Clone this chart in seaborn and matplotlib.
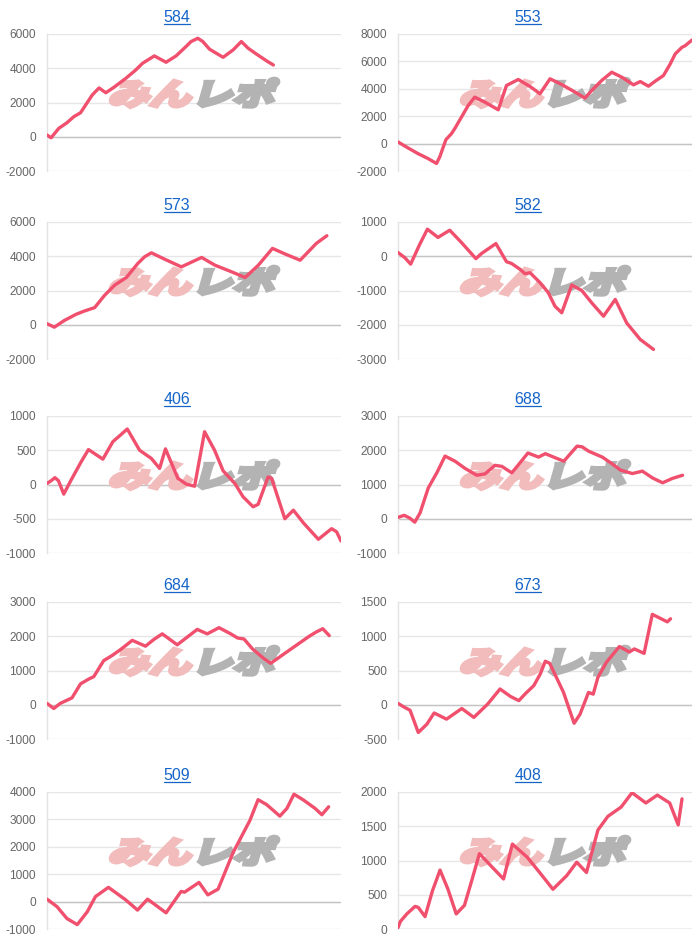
import matplotlib.pyplot as plt
import seaborn as sns
import numpy as np
import pandas as pd
from matplotlib.textpath import TextPath
from matplotlib.patches import PathPatch
from matplotlib.font_manager import FontProperties
from matplotlib.transforms import Affine2D
from matplotlib.lines import Line2D

# machine numbers, reading order (left->right, top->bottom)
titles = ["584", "553", "573", "582", "406", "688", "684", "673", "509", "408"]

# x = progress through the day (% of axis width), y = medal difference
x_584 = [0, 1.4, 4.0, 6.8, 9.1, 11.4, 15.4, 17.7, 20.0, 22.8, 26.8, 30.2, 32.5, 36.5,
         40.5, 43.9, 47.3, 49.0, 51.3, 53.0, 55.3, 59.9, 63.3, 66.1, 68.4, 71.3, 74.7, 77.0]
y_584 = [100, -60, 490, 820, 1170, 1400, 2440, 2850, 2570, 2890, 3410, 3900, 4290, 4720,
         4350, 4720, 5270, 5560, 5750, 5560, 5110, 4640, 5070, 5560, 5170, 4820, 4430, 4190]

x_553 = [0, 3.4, 6.8, 10.2, 13.1, 14.2, 16.3, 18.2, 19.3, 21.6, 23.9, 26.1, 29.5, 34.1,
         36.9, 40.9, 44.9, 48.3, 51.7, 55.7, 60.2, 63.6, 65.9, 69.3, 72.7, 76.1, 80.1,
         82.4, 85.2, 87.5, 90.3, 92.6, 94.3, 96.6, 97.7, 100]
y_553 = [120, -315, -730, -1090, -1450, -970, 290, 730, 1090, 1940, 2790, 3390, 3030, 2470,
         4240, 4680, 4170, 3640, 4730, 4310, 3760, 3320, 3880, 4610, 5210, 4850, 4290,
         4530, 4190, 4560, 4970, 5820, 6550, 7030, 7150, 7560]

x_573 = [0, 2.5, 5.9, 9.9, 12.7, 16.2, 19.6, 23.0, 27.0, 30.9, 33.2, 35.5, 40.0, 45.7,
         52.6, 57.1, 62.8, 67.4, 71.9, 76.7, 81.0, 86.1, 87.8, 91.6, 95.2]
y_573 = [60, -140, 250, 610, 800, 1000, 1720, 2310, 2760, 3580, 3970, 4200, 3830, 3380,
         3930, 3480, 3090, 2760, 3480, 4460, 4130, 3770, 4070, 4750, 5200]

x_582 = [0, 2.3, 4.3, 7.4, 10.0, 13.6, 17.6, 21.6, 26.5, 28.4, 33.3, 36.9, 38.6, 41.5,
         43.2, 44.9, 48.3, 51.1, 53.4, 55.7, 59.1, 62.5, 65.9, 69.9, 73.9, 77.8, 82.4, 86.9]
y_582 = [110, -40, -230, 350, 790, 550, 760, 400, -70, 80, 370, -160, -210, -380,
         -510, -480, -770, -1060, -1460, -1650, -840, -1000, -1360, -1750, -1260, -1950,
         -2430, -2720]

x_406 = [0, 1.4, 2.7, 3.9, 5.7, 8.2, 11.6, 14.1, 19.0, 22.4, 25.2, 27.3, 31.5, 35.5,
         38.3, 40.3, 44.5, 47.4, 50.2, 53.6, 57.0, 59.9, 63.9, 66.7, 70.1, 71.8, 75.2,
         76.4, 80.9, 83.8, 87.2, 92.3, 96.8, 98.5, 100]
y_406 = [15, 55, 100, 55, -140, 65, 330, 510, 370, 625, 730, 810, 500, 380,
         235, 520, 90, 5, -25, 770, 500, 200, 15, -180, -325, -290, 110,
         90, -500, -375, -560, -800, -645, -690, -825]

x_688 = [0, 2.1, 4.0, 5.7, 7.5, 10.3, 13.2, 16.0, 19.4, 22.8, 26.8, 29.6, 33.0, 35.3,
         38.7, 41.0, 44.2, 47.8, 50.1, 53.5, 56.4, 60.9, 62.6, 64.9, 69.5, 72.9, 75.7,
         79.7, 83.1, 86.6, 90.0, 93.4, 96.8]
y_688 = [40, 100, 20, -100, 170, 900, 1340, 1830, 1680, 1470, 1270, 1310, 1560, 1530,
         1340, 1580, 1920, 1800, 1900, 1780, 1680, 2120, 2100, 1970, 1800, 1600, 1420,
         1320, 1390, 1190, 1050, 1180, 1270]

x_684 = [0, 2.3, 4.5, 8.5, 11.4, 14.2, 15.9, 19.3, 22.2, 25.0, 29.0, 33.5, 36.4, 39.2,
         44.3, 51.1, 54.5, 58.5, 62.5, 64.8, 67.0, 69.9, 73.9, 76.1, 80.7, 85.2, 89.2,
         91.5, 93.8, 96.0]
y_684 = [40, -110, 40, 200, 610, 750, 820, 1290, 1440, 1610, 1880, 1710, 1910, 2070,
         1750, 2200, 2070, 2250, 2070, 1950, 1920, 1630, 1340, 1210, 1490, 1760, 2000,
         2120, 2220, 2020]

x_673 = [0, 1.9, 4.1, 6.9, 9.8, 12.3, 16.5, 21.7, 25.8, 30.5, 34.7, 38.3, 41.1, 43.4,
         46.2, 48.4, 50.1, 51.6, 55.2, 56.3, 59.9, 61.9, 64.8, 66.4, 68.0, 70.9, 75.3,
         78.7, 80.4, 83.7, 86.5, 91.6, 92.7]
y_673 = [20, -30, -80, -405, -285, -120, -210, -55, -185, 10, 230, 120, 60, 165,
         280, 450, 635, 605, 280, 180, -270, -140, 180, 155, 400, 620, 850,
         770, 815, 750, 1320, 1210, 1255]

x_509 = [0, 3.4, 6.8, 10.3, 13.7, 16.5, 20.9, 26.8, 30.8, 34.2, 40.5, 45.6, 46.8, 51.7,
         54.7, 58.2, 63.3, 69.0, 71.8, 74.7, 79.2, 81.6, 84.0, 87.2, 91.2, 93.5, 95.8]
y_509 = [90, -185, -620, -840, -370, 185, 520, 60, -310, 90, -410, 370, 345, 700,
         245, 455, 1790, 2960, 3720, 3540, 3120, 3400, 3920, 3710, 3400, 3170, 3460]

x_408 = [0, 0.8, 3.0, 5.8, 6.9, 9.2, 11.7, 14.3, 17.0, 19.8, 22.6, 24.9, 27.7, 32.1,
         35.9, 38.9, 43.9, 47.9, 52.7, 57.4, 60.8, 64.1, 68.0, 71.4, 75.9, 79.6, 84.3,
         88.2, 92.4, 95.3, 96.6]
y_408 = [20, 110, 220, 330, 315, 180, 555, 860, 580, 220, 345, 680, 1100, 900,
         730, 1240, 1050, 840, 580, 780, 975, 825, 1445, 1645, 1780, 1990, 1840,
         1955, 1840, 1520, 1900]

ticks_584 = [-2000, 0, 2000, 4000, 6000]
ticks_553 = [-2000, 0, 2000, 4000, 6000, 8000]
ticks_573 = [-2000, 0, 2000, 4000, 6000]
ticks_582 = [-3000, -2000, -1000, 0, 1000]
ticks_406 = [-1000, -500, 0, 500, 1000]
ticks_688 = [-1000, 0, 1000, 2000, 3000]
ticks_684 = [-1000, 0, 1000, 2000, 3000]
ticks_673 = [-500, 0, 500, 1000, 1500]
ticks_509 = [-1000, 0, 1000, 2000, 3000, 4000]
ticks_408 = [0, 500, 1000, 1500, 2000]

series = [(x_584, y_584, ticks_584), (x_553, y_553, ticks_553),
          (x_573, y_573, ticks_573), (x_582, y_582, ticks_582),
          (x_406, y_406, ticks_406), (x_688, y_688, ticks_688),
          (x_684, y_684, ticks_684), (x_673, y_673, ticks_673),
          (x_509, y_509, ticks_509), (x_408, y_408, ticks_408)]

sns.set_theme(style="white")
plt.rcParams["font.family"] = ["Liberation Sans", "DejaVu Sans"]
plt.rcParams["axes.unicode_minus"] = False

LINE = "#f0506e"
BLUE = "#1565c8"

W, H = 700, 942
fig = plt.figure(figsize=(W / 100, H / 100), dpi=100)

col_left = [47, 398]
title_x = [177, 528]
row_top = [34, 222, 416, 602, 792]
aw, ah = 294, 137

# watermark glyph paths (built once)
fp = FontProperties(family="Noto Sans CJK JP", weight="bold")
p_pink = TextPath((0, 0), "みん", size=1, prop=fp)
e1 = p_pink.get_extents()
p_gray = TextPath((e1.x1 + 0.05, 0), "レポ", size=1, prop=fp)
e2 = p_gray.get_extents()
wx0, wx1 = e1.x0, e2.x1
wy0, wy1 = min(e1.y0, e2.y0), max(e1.y1, e2.y1)

axes = []
for i, (xs, ys, ticks) in enumerate(series):
    l = col_left[i % 2]
    t = row_top[i // 2]
    ax = fig.add_axes([l / W, 1 - (t + ah) / H, aw / W, ah / H])
    axes.append((ax, l, t))

    df = pd.DataFrame({"x": xs, "y": ys})
    sns.lineplot(data=df, x="x", y="y", ax=ax, color=LINE, linewidth=2.4,
                 estimator=None, sort=False, zorder=3)

    ax.set_xlim(0, 100)
    ax.set_ylim(ticks[0], ticks[-1])
    ax.set_yticks(ticks)
    ax.set_yticklabels([str(v) for v in ticks])
    ax.set_xticks([])
    ax.set_xlabel("")
    ax.set_ylabel("")
    ax.yaxis.grid(True, color="#e6e6e6", linewidth=1)
    ax.set_axisbelow(True)
    ax.axhline(0, color="#c4c4c4", linewidth=1, zorder=1)
    for s in ["top", "right", "bottom"]:
        ax.spines[s].set_visible(False)
    ax.spines["left"].set_color("#e3e3e3")
    ax.spines["left"].set_linewidth(1)
    ax.tick_params(axis="y", length=0, pad=8, labelsize=8.6, labelcolor="#666666")

    # watermark logo (stroked to get a heavy look)
    cx = l + aw / 2
    cy = H - (t + 0.43 * ah)
    sx = 162 / (wx1 - wx0)
    sy = 28 / (wy1 - wy0)
    tr = (Affine2D().translate(-(wx0 + wx1) / 2, -(wy0 + wy1) / 2)
          .scale(sx, sy).skew_deg(16, 0).translate(cx, cy))
    ax.add_patch(PathPatch(p_pink, transform=tr, facecolor="#f2bcbc",
                           edgecolor="#f2bcbc", linewidth=3.2, joinstyle="miter",
                           zorder=1.5, clip_on=False))
    ax.add_patch(PathPatch(p_gray, transform=tr, facecolor="#b3b3b3",
                           edgecolor="#b3b3b3", linewidth=3.2, joinstyle="miter",
                           zorder=1.5, clip_on=False))

    # title
    fig.text(title_x[i % 2] / W, 1 - (t - 12) / H, titles[i], ha="center",
             va="baseline", fontsize=11.5, color=BLUE)

fig.canvas.draw()
renderer = fig.canvas.get_renderer()
for txt, (ax, l, t) in zip(fig.texts, axes):
    bb = txt.get_window_extent(renderer)
    yb = H - (t - 12) - 2
    fig.add_artist(Line2D([bb.x0 / W, bb.x1 / W], [yb / H, yb / H],
                          transform=fig.transFigure, color=BLUE, linewidth=0.9))

fig.savefig("out.png", dpi=100)
